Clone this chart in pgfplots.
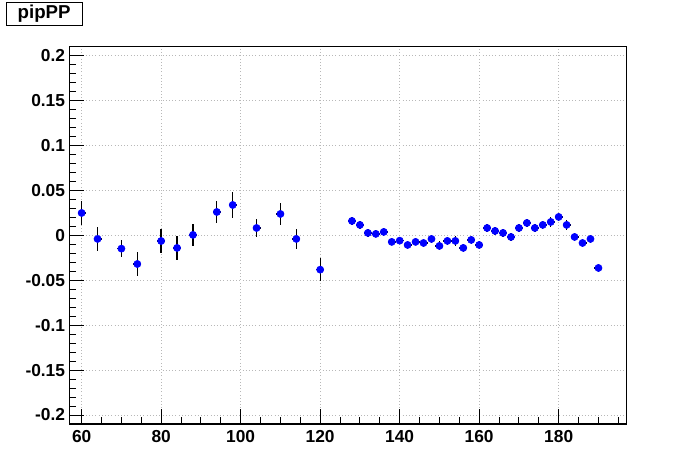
\documentclass[border=0pt]{standalone}
\usepackage{fontspec}
\setmainfont{Liberation Sans}
\usepackage{pgfplots}
\usepackage{pgfplotstable}
\pgfplotsset{compat=1.18}
\definecolor{rootblue}{RGB}{0,0,255}
\pgfplotstableread{
x    y        ex  ey
60   0.0249   1   0.0137
64  -0.0040   1   0.0130
70  -0.0148   1   0.0097
74  -0.0319   1   0.0134
80  -0.0063   1   0.0134
84  -0.0140   1   0.0130
88   0.0005   1   0.0120
94   0.0260   1   0.0120
98   0.0338   1   0.0148
104  0.0082   1   0.0104
110  0.0238   1   0.0120
114 -0.0040   1   0.0110
120 -0.0382   1   0.0128
128  0.0160   1   0.0045
130  0.0116   1   0.0040
132  0.0027   1   0.0040
134  0.0016   1   0.0040
136  0.0038   1   0.0040
138 -0.0073   1   0.0040
140 -0.0059   1   0.0040
142 -0.0107   1   0.0040
144 -0.0073   1   0.0040
146 -0.0085   1   0.0045
148 -0.0040   1   0.0040
150 -0.0118   1   0.0050
152 -0.0062   1   0.0040
154 -0.0062   1   0.0056
156 -0.0140   1   0.0040
158 -0.0051   1   0.0040
160 -0.0107   1   0.0040
162  0.0082   1   0.0040
164  0.0049   1   0.0040
166  0.0027   1   0.0040
168 -0.0018   1   0.0040
170  0.0082   1   0.0040
172  0.0138   1   0.0040
174  0.0082   1   0.0048
176  0.0116   1   0.0040
178  0.0149   1   0.0056
180  0.0205   1   0.0040
182  0.0116   1   0.0056
184 -0.0018   1   0.0040
186 -0.0085   1   0.0040
188 -0.0040   1   0.0040
190 -0.0363   1   0.0040
}\datatable
\begin{document}
\begin{tikzpicture}
\path (0,0) rectangle (522pt,354pt);
\begin{axis}[
  at={(52.3pt,36pt)}, anchor=south west,
  scale only axis, width=417.4pt, height=283pt,
  xmin=57, xmax=197, ymin=-0.21, ymax=0.21,
  xtick={60,80,100,120,140,160,180},
  xticklabels={60,80,100,120,140,160,180},
  ytick={-0.2,-0.15,-0.1,-0.05,0,0.05,0.1,0.15,0.2},
  yticklabels={-0.2,-0.15,-0.1,-0.05,0,0.05,0.1,0.15,0.2},
  minor xtick={60,65,...,195},
  minor ytick={-0.2,-0.19,...,0.205},
  tick pos=left,
  tick align=inside,
  major tick length=11pt, minor tick length=5pt,
  every tick/.style={black, line width=0.75pt},
  axis line style={line width=0.8pt},
  grid=major,
  major grid style={black!28, dotted, line width=0.7pt},
  tick label style={font=\bfseries\fontsize{13}{15}\selectfont},
  xticklabel style={yshift=-1.5pt},
  yticklabel style={xshift=0pt},
]
\addplot[draw=none, mark=none, forget plot,
  error bars/.cd, x dir=both, x explicit, y dir=both, y explicit,
  error mark=none, error bar style={black, line width=1pt}]
  table[x=x, y=y, x error=ex, y error=ey] {\datatable};
\addplot[only marks, mark=*, mark size=2.7pt, color=rootblue,
  mark options={fill=rootblue, draw=rootblue}]
  table[x=x, y=y] {\datatable};
\end{axis}
\node[draw=black, line width=0.75pt, minimum width=57pt, minimum height=17pt,
  inner sep=0pt, font=\bfseries\fontsize{14}{16}\selectfont]
  at (33.1pt,343.5pt) {pipPP};
\end{tikzpicture}
\end{document}
